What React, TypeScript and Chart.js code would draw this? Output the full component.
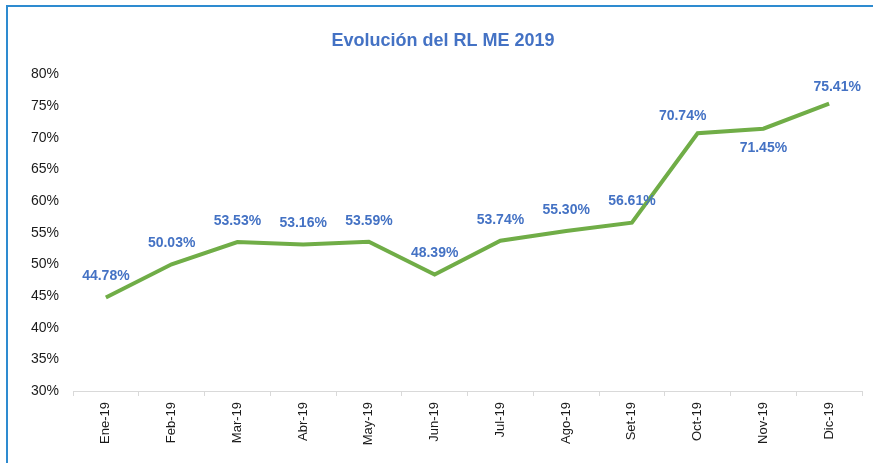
import React, { useEffect, useRef } from "react";
import { Chart, registerables } from "chart.js";

Chart.register(...registerables);

const categories = ["Ene-19", "Feb-19", "Mar-19", "Abr-19", "May-19", "Jun-19", "Jul-19", "Ago-19", "Set-19", "Oct-19", "Nov-19", "Dic-19"];
const values = [44.78, 50.03, 53.53, 53.16, 53.59, 48.39, 53.74, 55.3, 56.61, 70.74, 71.45, 75.41];
const yTicks = [30, 35, 40, 45, 50, 55, 60, 65, 70, 75, 80];
const labelPlacement = ["above", "above", "above", "above", "above", "above", "above", "above", "above", "above-left", "below", "above-right"];
const title = "Evolución del RL ME 2019";

const FONT = "'Liberation Sans', Arial, sans-serif";

const valueLabels = {
  id: "valueLabels",
  afterDatasetsDraw(chart: any) {
    const ctx = chart.ctx;
    const meta = chart.getDatasetMeta(0);
    ctx.save();
    ctx.font = `bold 14px ${FONT}`;
    ctx.fillStyle = "#4472C4";
    ctx.textAlign = "center";
    ctx.textBaseline = "middle";
    meta.data.forEach((pt: any, i: number) => {
      const p = labelPlacement[i];
      let dx = 0;
      let dy = -21;
      if (p === "below") dy = 19;
      if (p === "above-left") { dx = -15; dy = -17; }
      if (p === "above-right") { dx = 8; dy = -17; }
      ctx.fillText(values[i].toFixed(2) + "%", pt.x + dx, pt.y + dy);
    });
    ctx.restore();
  },
};

export default function App() {
  const ref = useRef<HTMLCanvasElement>(null);
  useEffect(() => {
    if (!ref.current) return;
    const chart = new Chart(ref.current, {
      type: "line",
      data: {
        labels: categories,
        datasets: [
          {
            data: values,
            borderColor: "#70AD47",
            borderWidth: 4,
            pointRadius: 0,
            tension: 0,
            fill: false,
          },
        ],
      },
      options: {
        animation: false,
        responsive: false,
        layout: { padding: { left: 24, right: 11, top: 0, bottom: 0 } },
        plugins: {
          legend: { display: false },
          tooltip: { enabled: false },
          title: {
            display: true,
            text: title,
            color: "#4472C4",
            font: { family: FONT, size: 18, weight: "bold" },
            padding: { top: 30, bottom: 23 },
          },
        },
        scales: {
          x: {
            offset: true,
            grid: { display: true, drawOnChartArea: false, offset: true, tickLength: 5, color: "#d9d9d9" },
            border: { display: true, color: "#d9d9d9", width: 1 },
            ticks: {
              minRotation: 90,
              maxRotation: 90,
              padding: 6,
              color: "#1a1a1a",
              font: { family: FONT, size: 13 },
              autoSkip: false,
            },
            afterFit(scale: any) {
              scale.height = 72;
            },
          },
          y: {
            min: 30,
            max: 80,
            afterBuildTicks(scale: any) {
              scale.ticks = yTicks.map((v) => ({ value: v }));
            },
            grid: { display: false },
            border: { display: false },
            ticks: {
              padding: 6,
              color: "#1a1a1a",
              font: { family: FONT, size: 14 },
              callback: (v: any) => v + "%",
            },
            afterFit(scale: any) {
              scale.width = 49;
            },
          },
        },
      },
      plugins: [valueLabels],
    });
    return () => chart.destroy();
  }, []);
  return (
    <div style={{ position: "fixed", left: 0, top: 0, width: 873, height: 463, background: "#fff" }}>
      <div
        style={{
          position: "absolute",
          left: 6,
          top: 5,
          width: 880,
          height: 470,
          borderTop: "2px solid #2E8BD0",
          borderLeft: "2px solid #2E8BD0",
          boxSizing: "border-box",
        }}
      />
      <canvas ref={ref} width={873} height={463} style={{ position: "absolute", left: 0, top: 0 }} />
    </div>
  );
}
